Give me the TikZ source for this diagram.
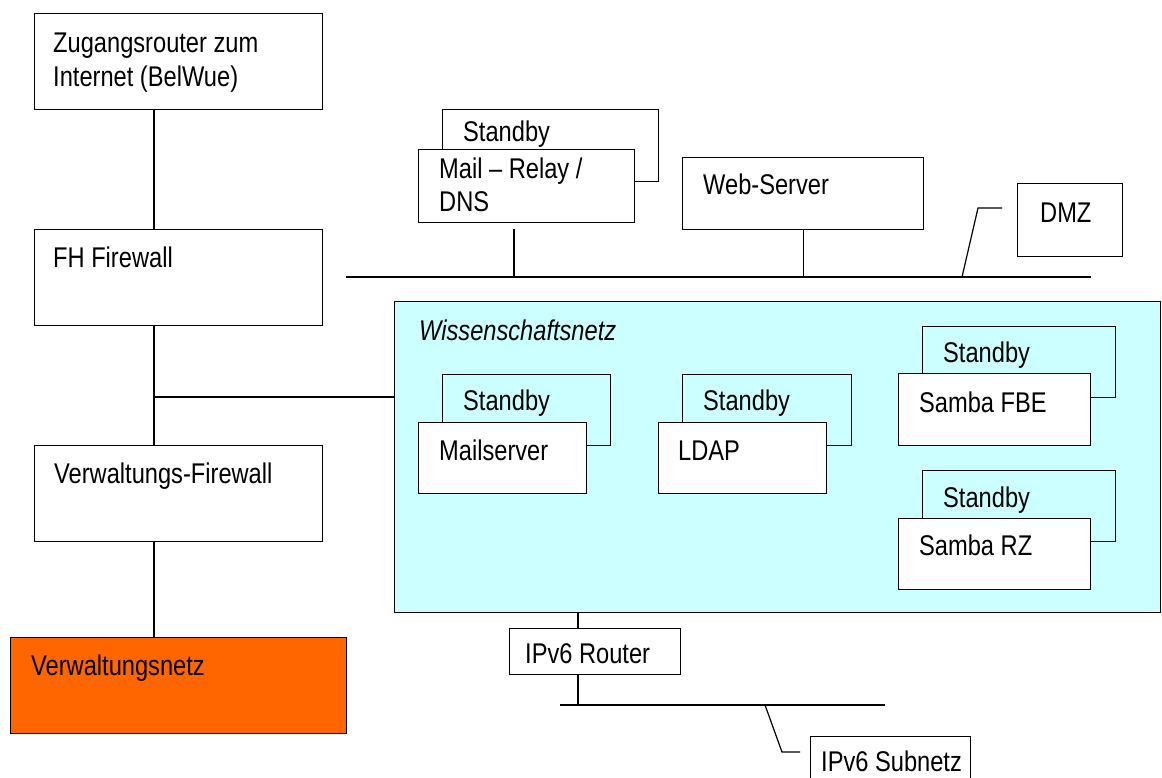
\documentclass[tikz,border=0pt]{standalone}
\usepackage{fontspec}
\setmainfont{Liberation Sans}[FakeStretch=0.83]
\begin{document}
\begin{tikzpicture}[x=1pt,y=-1pt,
  box/.style={draw, line width=1.2pt, fill=white, inner sep=0pt, anchor=north west},
  backbox/.style={draw, line width=1.2pt, inner sep=0pt, anchor=north west},
  lbl/.style={anchor=base west, inner sep=0pt, align=left, font=\fontsize{28.5}{34}\selectfont},
  wire/.style={line width=1.2pt}]
\clip (0,0) rectangle (1162,778);
% left column
\node[box, minimum width=288, minimum height=96] (zug) at (34,13) {};
\node[lbl] (zugT) at (53,87) {Zugangsrouter zum\\Internet (BelWue)};
\node[box, minimum width=288, minimum height=96] (fh) at (34,229) {};
\node[lbl] (fhT) at (53,268) {FH Firewall};
\node[box, minimum width=288, minimum height=96] (vfw) at (34,445) {};
\node[lbl] (vfwT) at (54,483) {Verwaltungs-Firewall};
\node[box, fill={rgb,255:red,255;green,102;blue,0}, minimum width=336, minimum height=96] (vnetz) at (10,637) {};
\node[lbl] (vnetzT) at (31,675) {Verwaltungsnetz};
\coordinate (trunk) at (154,0);
\coordinate (j1) at (154,397);
\draw[wire] (zug.south -| trunk) -- (fh.north -| trunk);
\draw[wire] (fh.south -| trunk) -- (vfw.north -| trunk);
\draw[wire] (vfw.south -| trunk) -- (vnetz.north -| trunk);
% Wissenschaftsnetz
\node[box, fill={rgb,255:red,204;green,255;blue,255}, line width=1pt, minimum width=766, minimum height=311] (wiss) at (394,301) {};
\node[lbl, font=\fontsize{28.5}{34}\selectfont\itshape] (wissT) at (419,340) {Wissenschaftsnetz};
\draw[wire] (j1) -- (wiss.west |- j1);
% Mailserver
\node[backbox, minimum width=168, minimum height=71] (msb) at (442,374) {};
\node[lbl] (msbT) at (463,410) {Standby};
\node[box, minimum width=168, minimum height=71] (ms) at (418,422) {};
\node[lbl] (msT) at (439,460) {Mailserver};
% LDAP
\node[backbox, minimum width=169, minimum height=71] (ldb) at (682,374) {};
\node[lbl] (ldbT) at (703,410) {Standby};
\node[box, minimum width=168, minimum height=71] (ld) at (658,422) {};
\node[lbl] (ldT) at (678,460) {LDAP};
% Samba FBE
\node[backbox, minimum width=193, minimum height=71] (sfb) at (922,326) {};
\node[lbl] (sfbT) at (943,362) {Standby};
\node[box, minimum width=192, minimum height=72] (sf) at (898,373) {};
\node[lbl] (sfT) at (919,412) {Samba FBE};
% Samba RZ
\node[backbox, minimum width=193, minimum height=71] (srb) at (922,470) {};
\node[lbl] (srbT) at (943,507) {Standby};
\node[box, minimum width=192, minimum height=71] (sr) at (898,518) {};
\node[lbl] (srT) at (919,555) {Samba RZ};
% DMZ
\node[backbox, minimum width=216, minimum height=72] (mrb) at (442,109) {};
\node[lbl] (mrbT) at (463,142) {Standby};
\node[box, minimum width=216, minimum height=73] (mr) at (418,149) {};
\node[lbl, font=\fontsize{28.5}{33}\selectfont] (mrT) at (439,212) {Mail -- Relay /\\DNS};
\node[box, minimum width=241, minimum height=72] (web) at (682,157) {};
\node[lbl] (webT) at (703,195) {Web-Server};
\node[box, minimum width=105, minimum height=73] (dmz) at (1017,183) {};
\node[lbl] (dmzT) at (1040,223) {DMZ};
\coordinate (busL) at (346,277);
\coordinate (busR) at (1091,277);
\coordinate (rtap) at (514,229);
\coordinate (dmzA) at (962,277);
\coordinate (dmzB) at (978,208);
\coordinate (dmzC) at (1002,208);
\draw[wire] (busL) -- (busR);
\draw[wire] (rtap) -- (rtap |- busL);
\draw[wire] (web.south) -- (web.south |- busL);
\draw[wire] (dmzA) -- (dmzB) -- (dmzC);
% IPv6
\node[box, minimum width=171, minimum height=46] (rt) at (509,628) {};
\node[lbl] (rtT) at (525,663) {IPv6 Router};
\node[box, minimum width=160, minimum height=80] (sub) at (810,736) {};
\node[lbl] (subT) at (821,771) {IPv6 Subnetz};
\coordinate (rtx) at (578,0);
\coordinate (b6L) at (560,705);
\coordinate (b6R) at (885,705);
\coordinate (s6A) at (765,705);
\coordinate (s6B) at (782,752);
\coordinate (s6C) at (800,752);
\draw[wire] (wiss.south -| rtx) -- (rt.north -| rtx);
\draw[wire] (rt.south -| rtx) -- (rtx |- b6L);
\draw[wire] (b6L) -- (b6R);
\draw[wire] (s6A) -- (s6B) -- (s6C);
\end{tikzpicture}
\end{document}
